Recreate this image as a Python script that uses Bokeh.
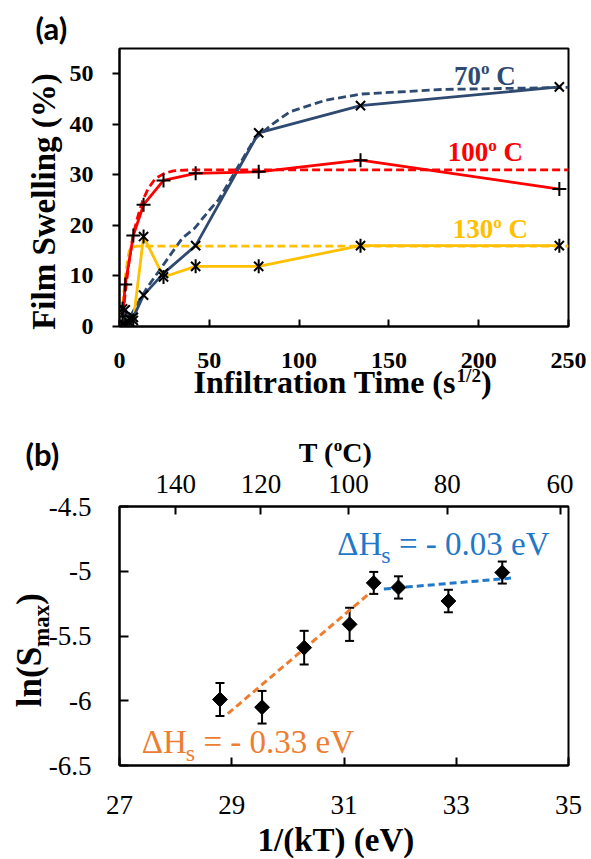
import numpy as np
from bokeh.plotting import figure
from bokeh.models import Label, LinearAxis, FixedTicker, Range1d, Whisker, TeeHead, ColumnDataSource
from bokeh.layouts import column
from bokeh.embed import file_html
from bokeh.resources import INLINE

# ---------------- panel (a) data ----------------
t_70 = [1.7, 3.2, 5.5, 7.7, 13.4, 24.5, 42.4, 77.5, 134.2, 244.9]
s_70 = [0.5, 3.3, 1.5, 1.8, 6.2, 10.5, 16.0, 38.3, 43.7, 47.4]
t_100 = [1.7, 3.2, 7.7, 13.4, 24.5, 42.4, 77.5, 134.2, 244.9]
s_100 = [2.0, 8.3, 18.0, 24.1, 28.9, 30.3, 30.6, 32.9, 27.2]
t_130 = [1.7, 3.2, 5.5, 7.7, 13.4, 24.5, 42.4, 77.5, 134.2, 244.9]
s_130 = [3.5, 0.3, 0.8, 1.2, 17.8, 9.8, 11.9, 11.9, 16.0, 16.0]

fit_t_70 = [3, 6, 10, 15, 20, 25, 30, 35, 42, 50, 55, 65, 75, 85, 95, 115, 135, 180, 250]
fit_s_70 = [0, 2, 4.5, 7.5, 10, 12.5, 15, 17.5, 19.5, 23, 25, 31, 37, 40, 42.5, 44.8, 46, 46.9, 47.3]
fit_t_100 = [1.5, 3, 5, 7.5, 10, 13, 16, 20, 25, 30, 40, 60, 100, 250]
fit_s_100 = [0, 6, 12, 18, 21.5, 25, 27.3, 29.3, 30.3, 30.8, 31.0, 31.0, 31.0, 31.0]
fit_t_130 = [1.3, 2.5, 3.5, 4.5, 5.5, 7, 10, 250]
fit_s_130 = [2, 7, 10.5, 13.3, 15, 15.7, 15.9, 15.9]

x_ticks_a = [0, 50, 100, 150, 200, 250]
y_ticks_a = [0, 10, 20, 30, 40, 50]

# ---------------- panel (b) data ----------------
inv_kT = [28.79, 29.54, 30.29, 31.10, 31.53, 31.97, 32.86, 33.82]
ln_s = [-5.99, -6.05, -5.59, -5.41, -5.09, -5.125, -5.23, -5.01]
ln_err = [0.128, 0.126, 0.13, 0.128, 0.085, 0.086, 0.087, 0.085]
fit_lo_x = [28.93, 31.475]
fit_lo_y = [-6.10, -5.163]
fit_hi_x = [31.71, 33.975]
fit_hi_y = [-5.137, -5.053]
x_ticks_b = [27, 29, 31, 33, 35]
y_ticks_b = [-6.5, -6.0, -5.5, -5.0, -4.5]
y_labels_b = ["-6.5", "-6", "-5.5", "-5", "-4.5"]
top_tick_pos = [28.0, 29.52, 31.08, 32.84, 34.85]
top_tick_lab = ["140", "120", "100", "80", "60"]

NAVY = "#2F4A70"
RED = "#FF0000"
GOLD = "#FFC000"
BLUE = "#1F78C8"
ORANGE = "#ED7D31"
SERIF = "Liberation Serif"
SHIFT = 0.3  # baseline correction (in em) observed for Label text

WB = {' ': 250, '(': 333, ')': 333, '%': 1000, '/': 278, '.': 250, '-': 333, '=': 570,
      'C': 722, 'F': 611, 'I': 389, 'S': 556, 'T': 667, 'V': 722, 'H': 778,
      'a': 500, 'e': 444, 'f': 333, 'g': 500, 'i': 278, 'k': 556, 'l': 278, 'm': 833,
      'n': 556, 'o': 500, 'r': 444, 's': 389, 't': 333, 'w': 722, 'x': 500}
WR = {' ': 250, '(': 333, ')': 333, '-': 333, '.': 250, '=': 564, 'H': 722, 'V': 722,
      'e': 444, 's': 389, 'o': 500, '\u0394': 612, 'C': 667, 'T': 611}


def tw(s, fs, bold):
    tab = WB if bold else WR
    return sum(tab.get(c, 500) for c in s) / 1000.0 * fs


def label(p, x, y, text, fs, bold, color, font=SERIF, angle=0.0, align="left", xo=0.0, yo=0.0):
    if angle == 0:
        yo += SHIFT * fs
    else:
        xo -= SHIFT * fs
    p.add_layout(Label(x=x, y=y, text=text, x_offset=xo, y_offset=yo, angle=angle,
                       text_font=font, text_font_size=f"{fs}px",
                       text_font_style="bold" if bold else "normal",
                       text_color=color, text_align=align, text_baseline="alphabetic"))


def rich(p, x, y, parts, color, bold, angle=0.0, font=SERIF):
    off = 0.0
    for text, fs, sh in parts:
        lead = len(text) - len(text.lstrip(' '))
        off += tw(' ' * lead, fs, bold)
        body = text.strip(' ')
        if angle == 0:
            xo, yo = off, sh
        else:
            xo, yo = -sh, off
        label(p, x, y, body, fs, bold, color, font=font, angle=angle, xo=xo, yo=yo)
        off += tw(body, fs, bold)


def style_axis(ax, size, bold, tin, tout, standoff):
    ax.axis_line_width = 2
    ax.axis_line_color = "black"
    ax.major_tick_line_width = 2
    ax.major_tick_line_color = "black"
    ax.major_tick_in = tin
    ax.major_tick_out = tout
    ax.minor_tick_line_color = None
    ax.major_label_text_font = SERIF
    ax.major_label_text_font_size = f"{size}px"
    ax.major_label_text_font_style = "bold" if bold else "normal"
    ax.major_label_text_color = "black"
    ax.major_label_standoff = standoff


# ---------------- figure (a) ----------------
p1 = figure(width=591, height=424, x_range=Range1d(0, 250), y_range=Range1d(0, 55),
            output_backend="svg", toolbar_location=None, title=None,
            min_border_left=118, min_border_right=23, min_border_top=48, min_border_bottom=98)
p1.xgrid.visible = False
p1.ygrid.visible = False
p1.outline_line_color = "black"
p1.outline_line_width = 2
p1.xaxis.ticker = FixedTicker(ticks=x_ticks_a)
p1.yaxis.ticker = FixedTicker(ticks=y_ticks_a)
style_axis(p1.xaxis[0], 24, True, 7, 0, 26)
style_axis(p1.yaxis[0], 24, True, 0, 7, 19)

lw = 2.8
p1.line(fit_t_70, fit_s_70, line_color=NAVY, line_width=lw, line_dash="8 4")
p1.line(fit_t_100, fit_s_100, line_color=RED, line_width=lw, line_dash="8 4")
p1.line(fit_t_130, fit_s_130, line_color=GOLD, line_width=lw, line_dash="8 4")
p1.line(t_130, s_130, line_color=GOLD, line_width=lw)
p1.line(t_70, s_70, line_color=NAVY, line_width=lw)
p1.line(t_100, s_100, line_color=RED, line_width=lw)

p1.scatter(t_70, s_70, marker="x", size=13, line_color="black", line_width=2)
p1.scatter(t_100, s_100, marker="cross", size=14, line_color="black", line_width=2)
p1.scatter(t_130, s_130, marker="x", size=13, line_color="black", line_width=2)
p1.scatter(t_130, s_130, marker="dash", angle=np.pi / 2, size=14, line_color="black", line_width=2)

rich(p1, 186.2, 48.0, [("70", 27, 0), ("o", 17, 10), (" C", 27, 0)], NAVY, True)
rich(p1, 182.7, 32.84, [("100", 27, 0), ("o", 17, 10), (" C", 27, 0)], RED, True)
rich(p1, 185.5, 17.67, [("130", 27, 0), ("o", 17, 10), (" C", 27, 0)], GOLD, True)

# ---------------- figure (b) ----------------
p2 = figure(width=591, height=435, x_range=Range1d(27, 35), y_range=Range1d(-6.5, -4.5),
            output_backend="svg", toolbar_location=None, title=None,
            min_border_left=119, min_border_right=20, min_border_top=82, min_border_bottom=94)
p2.xgrid.visible = False
p2.ygrid.visible = False
p2.outline_line_color = "black"
p2.outline_line_width = 2
p2.xaxis.ticker = FixedTicker(ticks=x_ticks_b)
p2.yaxis.ticker = FixedTicker(ticks=y_ticks_b)
p2.yaxis.major_label_overrides = dict(zip(y_ticks_b, y_labels_b))
style_axis(p2.xaxis[0], 27, False, 8, 0, 30)
style_axis(p2.yaxis[0], 27, False, 9, 0, 28)

top = LinearAxis(ticker=FixedTicker(ticks=top_tick_pos),
                 major_label_overrides=dict(zip(top_tick_pos, top_tick_lab)))
style_axis(top, 27, False, 8, 0, 14)
p2.add_layout(top, "above")

p2.line(fit_lo_x, fit_lo_y, line_color=ORANGE, line_width=3, line_dash="7 4")
p2.line(fit_hi_x, fit_hi_y, line_color=BLUE, line_width=3, line_dash="7 4")

upper = [a + b for a, b in zip(ln_s, ln_err)]
lower = [a - b for a, b in zip(ln_s, ln_err)]
src = ColumnDataSource(dict(x=inv_kT, y=ln_s, upper=upper, lower=lower))
p2.add_layout(Whisker(source=src, base="x", upper="upper", lower="lower",
                      line_color="black", line_width=2,
                      upper_head=TeeHead(size=9, line_width=2, line_color="black"),
                      lower_head=TeeHead(size=9, line_width=2, line_color="black")))
p2.scatter("x", "y", source=src, marker="square", angle=np.pi / 4, size=10.5,
           fill_color="black", line_color="black")

rich(p2, 30.881, -4.867, [("\u0394H", 33, 0), ("s", 24, -8), (" = - 0.03 eV", 33, 0)], BLUE, False)
rich(p2, 27.397, -6.397, [("\u0394H", 33, 0), ("s", 24, -8), (" = - 0.33 eV", 33, 0)], ORANGE, False)

# ---------------- transparent overlay carrying the titles (pixel coordinates) ----------------
W, H = 591, 859
ov = figure(width=W, height=H, x_range=Range1d(0, W), y_range=Range1d(H, 0),
            output_backend="svg", toolbar_location=None, title=None,
            x_axis_location=None, y_axis_location=None, min_border=0,
            background_fill_color=None, border_fill_color=None, outline_line_color=None,
            styles={"position": "absolute", "top": "0px", "left": "0px",
                    "z-index": "10", "pointer-events": "none"})
ov.xgrid.visible = False
ov.ygrid.visible = False

label(ov, 35, 37, "(a)", 31, True, "black", font="Lato")
label(ov, 53.5, 201, "Film Swelling (%)", 33, True, "black", angle=np.pi / 2, align="center")
rich(ov, 193, 391, [("Infiltration Time (s", 32, 0), ("1/2", 19, 10), (")", 32, 0)], "black", True)

label(ov, 25, 462.3, "(b)", 31, True, "black", font="Lato")
rich(ov, 298.3, 460, [("T (", 28, 0), ("o", 17, 10), ("C)", 28, 0)], "black", True)
rich(ov, 39, 706.7, [("ln(S", 35, 0), ("max", 23, -9), (")", 35, 0)], "black", True,
     angle=np.pi / 2)
rich(ov, 257, 849, [("1/(kT) (eV)", 33, 0)], "black", True)

lay = column(p1, p2)
open("out.html", "w").write(file_html([lay, ov], INLINE))
